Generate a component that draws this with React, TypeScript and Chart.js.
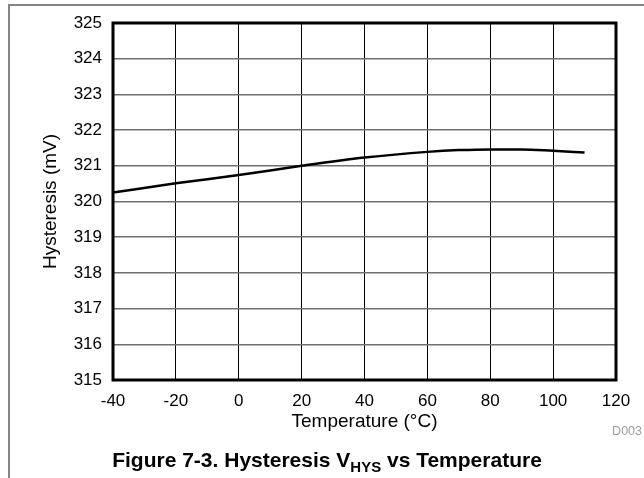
import React, { useEffect, useRef } from "react";
import { Chart, registerables } from "chart.js";

Chart.register(...registerables);

const temperatures = [-40, -20, 0, 20, 40, 60, 70, 80, 90, 100, 110];
const hysteresis = [320.25, 320.51, 320.74, 321.0, 321.23, 321.39, 321.44, 321.46, 321.46, 321.42, 321.37];
const xTicks = [-40, -20, 0, 20, 40, 60, 80, 100, 120];
const yTicks = [315, 316, 317, 318, 319, 320, 321, 322, 323, 324, 325];

const xTitle = "Temperature (°C)";
const yTitle = "Hysteresis (mV)";
const captionMain = "Figure 7-3. Hysteresis V";
const captionSub = "HYS";
const captionTail = " vs Temperature";
const figId = "D003";

const FONT = "'Liberation Sans', Arial, Helvetica, sans-serif";

const decorPlugin = {
  id: "decor",
  beforeDraw(chart: any) {
    const ctx = chart.ctx;
    ctx.save();
    ctx.strokeStyle = "#858585";
    ctx.lineWidth = 2;
    ctx.beginPath();
    ctx.moveTo(8, 5);
    ctx.lineTo(644, 5);
    ctx.moveTo(9, 4);
    ctx.lineTo(9, 478);
    ctx.stroke();
    ctx.restore();
  },
  afterDraw(chart: any) {
    const ctx = chart.ctx;
    const a = chart.chartArea;
    ctx.save();
    ctx.strokeStyle = "#000";
    ctx.lineWidth = 3;
    ctx.strokeRect(a.left, a.top, a.right - a.left, a.bottom - a.top);

    // figure id
    ctx.fillStyle = "#a0a0a0";
    ctx.font = `12.5px ${FONT}`;
    ctx.textAlign = "right";
    ctx.textBaseline = "alphabetic";
    ctx.fillText(figId, 642, 435);

    // caption
    const mainFont = `bold 21px ${FONT}`;
    const subFont = `bold 15px ${FONT}`;
    ctx.font = mainFont;
    const w1 = ctx.measureText(captionMain).width;
    const w3 = ctx.measureText(captionTail).width;
    ctx.font = subFont;
    const w2 = ctx.measureText(captionSub).width;
    const total = w1 + w2 + w3;
    let x = 327 - total / 2;
    ctx.fillStyle = "#000";
    ctx.textAlign = "left";
    ctx.font = mainFont;
    ctx.fillText(captionMain, x, 467);
    x += w1;
    ctx.font = subFont;
    ctx.fillText(captionSub, x, 472);
    x += w2;
    ctx.font = mainFont;
    ctx.fillText(captionTail, x, 467);
    ctx.restore();
  },
};

export default function App() {
  const ref = useRef<HTMLCanvasElement | null>(null);

  useEffect(() => {
    document.body.style.margin = "0";
    if (!ref.current) return;
    Chart.defaults.font.family = FONT;
    const chart = new Chart(ref.current, {
      type: "line",
      data: {
        datasets: [
          {
            data: temperatures.map((t, i) => ({ x: t, y: hysteresis[i] })),
            borderColor: "#000",
            borderWidth: 2.5,
            pointRadius: 0,
            cubicInterpolationMode: "monotone",
            fill: false,
          },
        ],
      },
      options: {
        animation: false,
        responsive: false,
        devicePixelRatio: 1,
        layout: { padding: { left: 0, top: 23, right: 28, bottom: 0 } },
        plugins: { legend: { display: false }, tooltip: { enabled: false }, title: { display: false } },
        scales: {
          x: {
            type: "linear",
            min: -40,
            max: 120,
            afterFit: (s: any) => {
              s.height = 98;
            },
            afterBuildTicks: (s: any) => {
              s.ticks = xTicks.map((v) => ({ value: v }));
            },
            ticks: { color: "#000", font: { size: 17 }, padding: 11, maxRotation: 0, autoSkip: false },
            grid: { color: "#000", lineWidth: 1, drawTicks: false },
            border: { display: false },
            title: { display: true, text: xTitle, color: "#000", font: { size: 19 }, padding: { top: 0, bottom: 44.5 } },
          },
          y: {
            type: "linear",
            min: 315,
            max: 325,
            afterFit: (s: any) => {
              s.width = 113;
            },
            afterBuildTicks: (s: any) => {
              s.ticks = yTicks.map((v) => ({ value: v }));
            },
            ticks: { color: "#000", font: { size: 17 }, padding: 11, autoSkip: false },
            grid: { color: "#707070", lineWidth: 1.5, drawTicks: false },
            border: { display: false },
            title: { display: true, text: yTitle, color: "#000", font: { size: 19 }, padding: { top: 39, bottom: 0 } },
          },
        },
      },
      plugins: [decorPlugin],
    });
    return () => chart.destroy();
  }, []);

  return (
    <div style={{ width: 644, height: 478, position: "relative", background: "#fff" }}>
      <canvas ref={ref} width={644} height={478} style={{ display: "block" }} />
    </div>
  );
}
